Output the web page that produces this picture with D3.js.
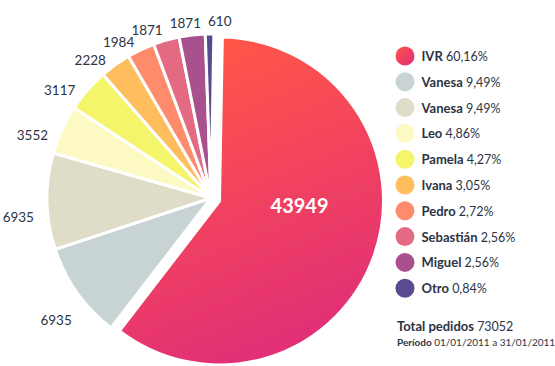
<!DOCTYPE html>
<html>
<head>
	<meta charset="utf-8">
	<script src="https://cdn.jsdelivr.net/npm/d3@7"></script>
	<style>
		body { margin: 0; background: #fff; }
		svg text { font-family: Lato, 'Open Sans', sans-serif; fill: #2b3445; }
	</style>
</head>
<body>
	<script>
		var names = ["IVR", "Vanesa", "Vanesa", "Leo", "Pamela", "Ivana", "Pedro", "Sebastián", "Miguel", "Otro"];
		var values = [43949, 6935, 6935, 3552, 3117, 2228, 1984, 1871, 1871, 610];
		var colors = ["url(#ivr)", "#c8d4d3", "#dfddc8", "#fcf9c3", "#f5f56b", "#febe5e", "#fe8b6c", "#e36a82", "#a8518e", "#5b4a8e"];
		var periodo = "01/01/2011 a 31/01/2011";

		var w = 555, h = 366;
		var cx = 211, cy = 198, R = 164;
		var rot = 1 * Math.PI / 180;
		var total = d3.sum(values);
		var pct = d3.format(".2f");

		var svg = d3.select("body").append("svg")
			.attr("width", w)
			.attr("height", h);

		// gradient for the big slice (coords relative to pie centre)
		var defs = svg.append("defs");
		var g1 = defs.append("linearGradient").attr("id", "ivr")
			.attr("gradientUnits", "userSpaceOnUse")
			.attr("x1", -10).attr("y1", -160).attr("x2", 120).attr("y2", 165);
		g1.append("stop").attr("offset", 0).attr("stop-color", "#ff5747");
		g1.append("stop").attr("offset", 1).attr("stop-color", "#df2a7c");
		var g2 = defs.append("linearGradient").attr("id", "ivrLeg")
			.attr("x1", 0).attr("y1", 0).attr("x2", 1).attr("y2", 1);
		g2.append("stop").attr("offset", 0).attr("stop-color", "#ff5747");
		g2.append("stop").attr("offset", 1).attr("stop-color", "#df2a7c");

		var data = names.map(function (n, i) { return { name: n, value: values[i], i: i }; });
		var arcs = d3.pie().sort(null)
			.startAngle(rot).endAngle(2 * Math.PI + rot)
			.value(function (d) { return d.value; })(data);
		var arc = d3.arc().innerRadius(0).outerRadius(R);
		var labelArc = d3.arc().innerRadius(186).outerRadius(186);

		var pie = svg.append("g").attr("transform", "translate(" + cx + "," + cy + ")");

		pie.selectAll("path")
			.data(arcs)
			.enter()
			.append("path")
			.attr("d", arc)
			.attr("fill", function (d) { return colors[d.index]; })
			.attr("stroke", "#fff")
			.attr("stroke-width", 3)
			.attr("stroke-linejoin", "round")
			.attr("transform", function (d) {
				if (d.index != 0) return null;
				var a = (d.startAngle + d.endAngle) / 2;
				return "translate(" + (9 * Math.sin(a)) + "," + (-9 * Math.cos(a)) + ")";
			});

		// outside value labels (sit a little counter-clockwise of the slice middle)
		var labels = pie.selectAll("text.val")
			.data(arcs.slice(1))
			.enter()
			.append("text")
			.attr("class", "val")
			.attr("text-anchor", "middle")
			.attr("dominant-baseline", "central")
			.style("font-size", "13.5px")
			.text(function (d) { return d.value; });

		// simple push to the right when neighbouring labels collide
		var pos = [];
		labels.each(function (d, i) {
			var c = labelArc.centroid({ startAngle: d.startAngle - 2 * rot, endAngle: d.endAngle - 2 * rot });
			var p = { x: c[0] - 7, y: c[1] + 9, w: this.getComputedTextLength() };
			if (i > 0) {
				var q = pos[i - 1];
				var need = (p.w + q.w) / 2 + 7;
				if (Math.abs(p.y - q.y) < 10 && p.x - q.x < need) p.x = q.x + need;
			}
			pos.push(p);
		});
		labels.attr("x", function (d, i) { return pos[i].x; })
			.attr("y", function (d, i) { return pos[i].y; });

		pie.append("text")
			.attr("x", R * 0.54)
			.attr("y", 7)
			.attr("text-anchor", "middle")
			.attr("dominant-baseline", "central")
			.style("font-size", "20px")
			.style("font-weight", "bold")
			.style("fill", "#fff")
			.text(values[0]);

		// legend
		var leg = svg.append("g").attr("transform", "translate(405,56)");
		var row = leg.selectAll("g")
			.data(data)
			.enter()
			.append("g")
			.attr("transform", function (d, i) { return "translate(0," + (i * 25.8) + ")"; });
		row.append("circle")
			.attr("r", 9.5)
			.attr("fill", function (d, i) { return i == 0 ? "url(#ivrLeg)" : colors[i]; });
		var lt = row.append("text")
			.attr("x", 16.5)
			.attr("dominant-baseline", "central")
			.style("font-size", "13px");
		lt.append("tspan").style("font-weight", "bold").text(function (d) { return d.name + " "; });
		lt.append("tspan").style("font-size", "12.5px").text(function (d) { return pct(d.value / total * 100).replace(".", ",") + "%"; });

		var tot = svg.append("text").attr("x", 397).attr("y", 331).style("font-size", "13px");
		tot.append("tspan").style("font-weight", "bold").text("Total pedidos ");
		tot.append("tspan").style("font-size", "12.5px").text(total);

		var per = svg.append("text").attr("x", 397).attr("y", 346).style("font-size", "10px");
		per.append("tspan").style("font-weight", "bold").text("Período ");
		per.append("tspan").text(periodo);
	</script>
</body>
</html>
